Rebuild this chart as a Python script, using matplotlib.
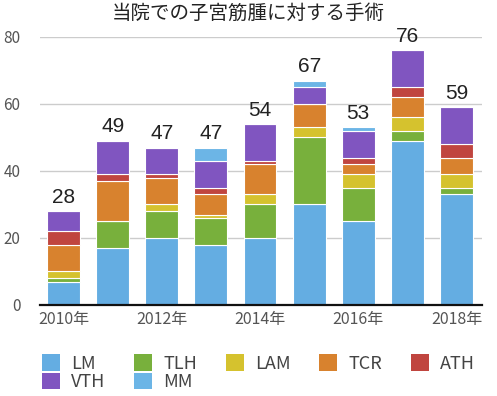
import matplotlib
matplotlib.use("Agg")
import matplotlib.pyplot as plt
from matplotlib.patches import Patch
import numpy as np

plt.rcParams['font.family'] = ['Noto Sans CJK JP', 'DejaVu Sans']

# data
years = [2010, 2011, 2012, 2013, 2014, 2015, 2016, 2017, 2018]
tick_labels = ["2010年", "", "2012年", "", "2014年", "", "2016年", "", "2018年"]
series_names = ["LM", "TLH", "LAM", "TCR", "ATH", "VTH", "MM"]
lm = [7, 17, 20, 18, 20, 30, 25, 49, 33]
tlh = [1, 8, 8, 8, 10, 20, 10, 3, 2]
lam = [2, 0, 2, 1, 3, 3, 4, 4, 4]
tcr = [8, 12, 8, 6, 9, 7, 3, 6, 5]
ath = [4, 2, 1, 2, 1, 0, 2, 3, 4]
vth = [6, 10, 8, 8, 11, 5, 8, 11, 11]
mm = [0, 0, 0, 4, 0, 2, 1, 0, 0]
colors = ["#64ade2", "#78b03c", "#d5c22e", "#d8822e", "#c0453f", "#8055c0", "#6cb5e6"]

series = [lm, tlh, lam, tcr, ath, vth, mm]
x = np.arange(len(years))

fig = plt.figure(figsize=(4.97, 3.96), dpi=100)
ax = fig.add_axes([0.0805, 0.2298, 0.8893, 0.6768])

# stacked bars with thin white separators
bottom = np.zeros(len(years))
for vals, name, col in zip(series, series_names, colors):
    ax.bar(x, vals, bottom=bottom, width=0.67, color=col, edgecolor="white",
           linewidth=0.8, label=name, zorder=3)
    bottom += np.array(vals)

# totals above each bar
for xi, tot in zip(x, bottom):
    ax.text(xi, tot + 1.3, f"{int(tot)}", ha="center", va="bottom", fontsize=15,
            color="#222222", family=["Liberation Sans", "DejaVu Sans"], clip_on=False)

ax.set_ylim(0, 80)
ax.set_xlim(-0.48, 8.52)
ax.set_yticks([0, 20, 40, 60, 80])
ax.set_xticks(x)
ax.set_xticklabels(tick_labels)
ax.grid(axis="y", color="#cccccc", linewidth=1, zorder=0)
ax.tick_params(axis="y", length=0, pad=14, labelsize=11, labelcolor="#555555")
ax.tick_params(axis="x", length=0, pad=4, labelsize=11.5, labelcolor="#555555")
for s in ["top", "right", "left"]:
    ax.spines[s].set_visible(False)
ax.spines["bottom"].set_linewidth(1.6)
ax.spines["bottom"].set_color("#111111")
ax.spines["bottom"].set_zorder(5)

fig.text(0.5, 0.965, "当院での子宮筋腫に対する手術", ha="center", va="center",
         fontsize=14, color="#222222")

# legend fills column by column, so reorder to get rows LM..ATH / VTH MM
order = [0, 5, 1, 6, 2, 3, 4]
handles = [Patch(facecolor=colors[i], edgecolor="none") for i in order]
labels = [series_names[i] for i in order]
fig.legend(handles, labels, loc="upper left", bbox_to_anchor=(0.085, 0.105),
           ncol=5, frameon=False, fontsize=13, handlelength=1.0, handleheight=1.0,
           handletextpad=0.6, columnspacing=1.6, labelspacing=0.0,
           borderpad=0, borderaxespad=0, labelcolor="#444444")

fig.savefig("out.png", dpi=100)
